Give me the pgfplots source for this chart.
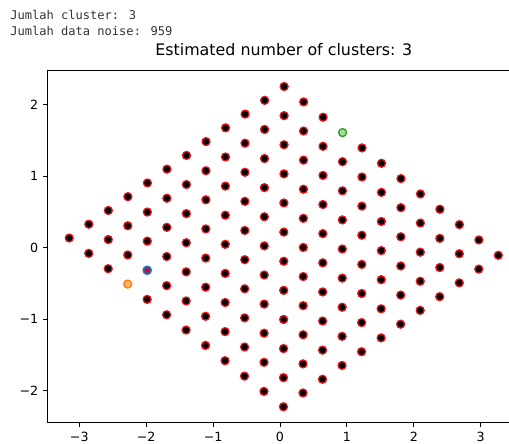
\documentclass[border=0pt]{standalone}
\usepackage{pgfplots}
\pgfplotsset{compat=1.18}
\usepackage{pgfplotstable}
\usepackage{fontspec}
\setmainfont{DejaVu Sans}
\newfontfamily\monofont{DejaVu Sans Mono}
\definecolor{tabblue}{HTML}{1F77B4}
\definecolor{taborange}{HTML}{FF7F0E}
\definecolor{lightorange}{HTML}{FFB567}
\definecolor{tabgreen}{HTML}{2CA02C}
\definecolor{lightgreen}{HTML}{A2DC96}
\definecolor{crimsonc}{HTML}{A3184C}
\definecolor{edgered}{HTML}{E8141E}
\pgfplotstableread{
x y
-3.150 0.135
-2.859 -0.080
-2.568 -0.294
-1.986 -0.723
-1.695 -0.938
-1.404 -1.152
-1.113 -1.367
-0.822 -1.581
-0.531 -1.796
-0.240 -2.010
0.051 -2.225
-2.858 0.328
-2.567 0.113
-2.276 -0.102
-1.694 -0.531
-1.403 -0.745
-1.112 -0.960
-0.821 -1.174
-0.530 -1.389
-0.239 -1.603
0.052 -1.818
0.343 -2.032
-2.566 0.520
-2.275 0.306
-1.984 0.091
-1.693 -0.124
-1.402 -0.338
-1.111 -0.553
-0.820 -0.767
-0.529 -0.982
-0.238 -1.196
0.053 -1.411
0.344 -1.625
0.635 -1.840
-2.274 0.713
-1.983 0.498
-1.692 0.284
-1.401 0.069
-1.110 -0.146
-0.819 -0.360
-0.528 -0.575
-0.237 -0.789
0.054 -1.004
0.345 -1.218
0.636 -1.433
0.927 -1.647
-1.982 0.905
-1.691 0.691
-1.400 0.476
-1.109 0.262
-0.818 0.047
-0.527 -0.168
-0.236 -0.382
0.055 -0.597
0.346 -0.811
0.637 -1.026
0.928 -1.240
1.219 -1.455
-1.690 1.098
-1.399 0.883
-1.108 0.669
-0.817 0.454
-0.526 0.240
-0.235 0.025
0.056 -0.190
0.347 -0.404
0.638 -0.619
0.929 -0.833
1.220 -1.048
1.511 -1.262
-1.398 1.290
-1.107 1.076
-0.816 0.861
-0.525 0.647
-0.234 0.432
0.057 0.218
0.348 0.003
0.639 -0.212
0.930 -0.426
1.221 -0.641
1.512 -0.855
1.803 -1.070
-1.106 1.483
-0.815 1.268
-0.524 1.054
-0.233 0.839
0.058 0.625
0.349 0.410
0.640 0.196
0.931 -0.019
1.222 -0.234
1.513 -0.448
1.804 -0.663
2.095 -0.877
-0.814 1.675
-0.523 1.461
-0.232 1.246
0.059 1.032
0.350 0.817
0.641 0.603
0.932 0.388
1.223 0.174
1.514 -0.041
1.805 -0.256
2.096 -0.470
2.387 -0.685
-0.522 1.868
-0.231 1.653
0.060 1.439
0.351 1.224
0.642 1.010
0.933 0.795
1.224 0.581
1.515 0.366
1.806 0.152
2.097 -0.063
2.388 -0.278
2.679 -0.492
-0.230 2.060
0.061 1.846
0.352 1.631
0.643 1.417
0.934 1.202
1.225 0.988
1.516 0.773
1.807 0.559
2.098 0.344
2.389 0.130
2.680 -0.085
2.971 -0.300
0.062 2.253
0.353 2.038
0.644 1.824
1.226 1.395
1.517 1.180
1.808 0.966
2.099 0.751
2.390 0.537
2.681 0.322
2.972 0.108
3.263 -0.107
}\noisetable
\begin{document}
\begin{tikzpicture}
\begin{axis}[
  scale only axis,
  width=354pt, height=264.2pt,
  xmin=-3.471, xmax=3.584,
  ymin=-2.449, ymax=2.477,
  axis line style={line width=0.76pt, black},
  tick style={line width=0.76pt, black},
  tick align=outside,
  major tick length=3.3pt,
  xtick={-3,-2,-1,0,1,2,3},
  xticklabels={−3,−2,−1,0,1,2,3},
  ytick={-2,-1,0,1,2},
  yticklabels={−2,−1,0,1,2},
  xtick pos=bottom, ytick pos=left,
  ticklabel style={font=\fontsize{9.5}{11}\selectfont, black},
  xticklabel style={yshift=-0.3pt},
  yticklabel style={xshift=-0.3pt},
  title={Estimated number of clusters: 3},
  title style={font=\fontsize{11.9}{14}\selectfont, at={(0.5,1)}, anchor=base, yshift=5pt},
  clip=false,
]
\addplot[only marks, mark=*, mark size=3pt,
  mark options={fill=black, draw=edgered, line width=0.95pt}] table {\noisetable};
\addplot[only marks, mark=*, mark size=3pt,
  mark options={fill=lightorange, draw=taborange, line width=1.0pt}] coordinates {(-2.277,-0.509)};
\addplot[only marks, mark=*, mark size=3pt,
  mark options={fill=crimsonc, draw=tabblue, line width=1.2pt}] coordinates {(-1.985,-0.316)};
\addplot[only marks, mark=*, mark size=3pt,
  mark options={fill=lightgreen, draw=tabgreen, line width=1.0pt}] coordinates {(0.935,1.609)};
\end{axis}
\node[anchor=base west, inner sep=0pt, font=\monofont\fontsize{9.05}{12}\selectfont, text=black!80] at (-28.35pt,302.1pt) {Jumlah cluster: 3};
\node[anchor=base west, inner sep=0pt, font=\monofont\fontsize{9.05}{12}\selectfont, text=black!80] at (-28.35pt,290.1pt) {Jumlah data noise: 959};
\pgfresetboundingbox
\path[use as bounding box] (-35.85pt,-15.15pt) rectangle (345.9pt,317.1pt);
\end{tikzpicture}
\end{document}
